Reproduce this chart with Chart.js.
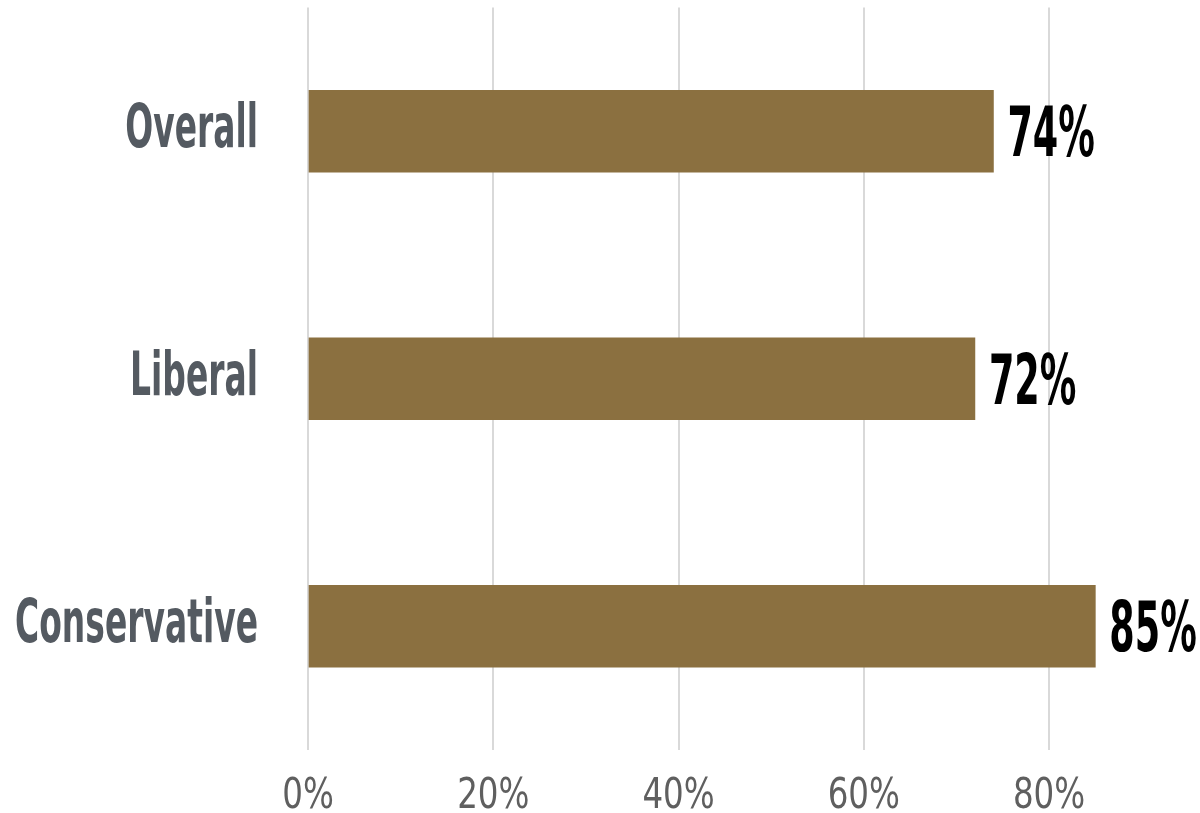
<!DOCTYPE html>
<html lang="en">
<head>
    <meta charset="UTF-8">
    <title>Overall / Liberal / Conservative</title>
    <script src="https://cdn.jsdelivr.net/npm/chart.js"></script>
</head>
<style>
    body {
        margin: 0;
        background-color: #fff;
    }
    #grafico {
        display: block;
    }
</style>
<body>
    <canvas id="grafico" width="1200" height="813"></canvas>
</body>
<script>
    const categorias = ['Overall', 'Liberal', 'Conservative'];
    const valores = [74, 72, 85];
    const ticksX = [0, 20, 40, 60, 80];

    const fonte = "'DejaVu Sans Condensed', 'DejaVu Sans', sans-serif";

    // texto "apertado" na horizontal, pra imitar a fonte condensada
    function textoApertado(ctx, txt, x, y, sx) {
        ctx.save();
        ctx.translate(x, y);
        ctx.scale(sx, 1);
        ctx.fillText(txt, 0, 0);
        ctx.restore();
    }

    const rotulos = {
        id: 'rotulos',
        afterDraw(chart) {
            const ctx = chart.ctx;
            const x = chart.scales.x;
            const y = chart.scales.y;
            const area = chart.chartArea;

            ctx.save();
            ctx.textBaseline = 'alphabetic';

            // categorias
            ctx.fillStyle = '#545a61';
            ctx.font = 'bold 61px ' + fonte;
            ctx.textAlign = 'right';
            categorias.forEach((c, i) => {
                textoApertado(ctx, c, area.left - 50, y.getPixelForValue(i) + 16, 0.6);
            });

            // valores no fim das barras
            const meta = chart.getDatasetMeta(0);
            ctx.fillStyle = '#000';
            ctx.font = 'bold 70px ' + fonte;
            ctx.textAlign = 'left';
            meta.data.forEach((bar, i) => {
                textoApertado(ctx, valores[i] + '%', bar.x + 14, bar.y + 25, 0.58);
            });

            // ticks do eixo x
            ctx.fillStyle = '#5f5f5f';
            ctx.font = '42px ' + fonte;
            ctx.textAlign = 'center';
            ticksX.forEach((v) => {
                textoApertado(ctx, v + '%', x.getPixelForValue(v), area.bottom + 58, 0.86);
            });
            ctx.restore();
        }
    };

    var grafico = document.getElementById('grafico');
    var barChart = new Chart(grafico, {
        type: 'bar',
        data: {
            labels: categorias,
            datasets: [{
                label: 'Porcentagem',
                data: valores,
                backgroundColor: '#8b7040',
                barThickness: 82
            }]
        },
        options: {
            indexAxis: 'y',
            responsive: false,
            animation: false,
            layout: {
                padding: { top: 7.5, right: 0, bottom: 0, left: 0 }
            },
            plugins: {
                legend: { display: false },
                tooltip: { enabled: false }
            },
            scales: {
                x: {
                    min: 0,
                    max: 96.3,
                    grid: {
                        color: '#d9d9d9',
                        lineWidth: 2,
                        drawTicks: false
                    },
                    border: { display: false },
                    ticks: { display: false },
                    afterBuildTicks: (s) => {
                        s.ticks = ticksX.map((v) => ({ value: v }));
                    },
                    afterFit: (s) => {
                        s.height = 63;
                    }
                },
                y: {
                    grid: { display: false },
                    border: { display: false },
                    ticks: { display: false },
                    afterFit: (s) => {
                        s.width = 308;
                    }
                }
            }
        },
        plugins: [rotulos]
    });
</script>
</html>
